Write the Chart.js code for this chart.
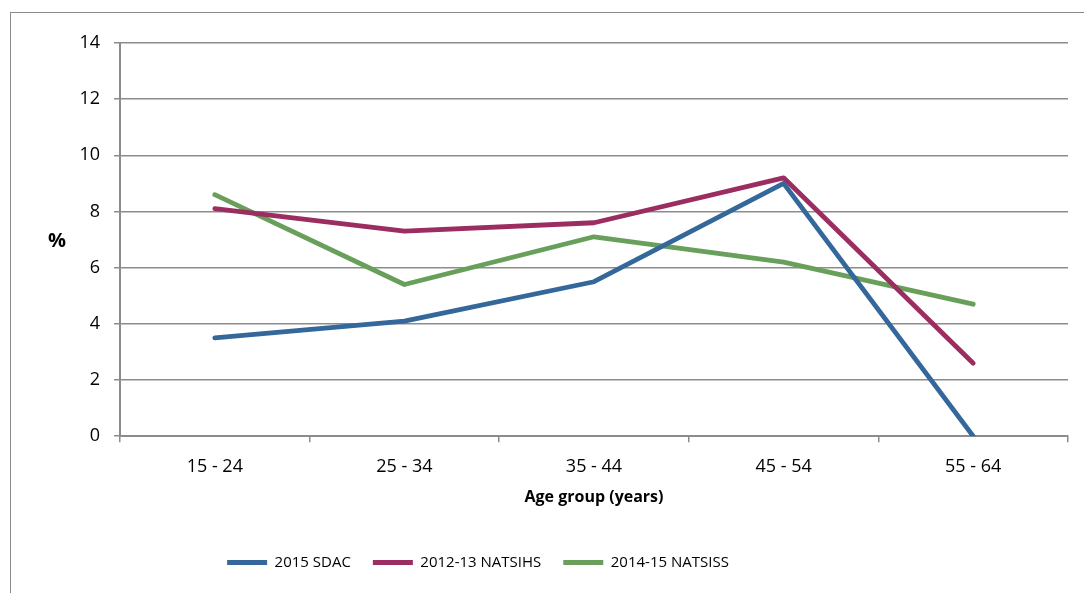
<!DOCTYPE html>
<html>
<head>
<meta charset="utf-8">
<script src="https://cdn.jsdelivr.net/npm/chart.js@4.4.1/dist/chart.umd.min.js"></script>
<style>
  html, body { margin: 0; padding: 0; background: #fff; }
  #wrap { position: relative; width: 1084px; height: 593px; }
  #frame {
    position: absolute; left: 10px; top: 12px; right: -2px; bottom: -2px;
    border-top: 1px solid #8a8a8a; border-left: 1px solid #8a8a8a;
  }
  canvas { position: absolute; left: 0; top: 0; }
</style>
</head>
<body>
<div id="wrap">
  <div id="frame"></div>
  <canvas id="chart" width="1084" height="593"></canvas>
</div>
<script>
const ageGroups = ['15 - 24', '25 - 34', '35 - 44', '45 - 54', '55 - 64'];
const sdac2015 = [3.5, 4.1, 5.5, 9.0, 0];
const natsihs201213 = [8.1, 7.3, 7.6, 9.2, 2.6];
const natsiss201415 = [8.6, 5.4, 7.1, 6.2, 4.7];

const FONT = "'Open Sans', 'Liberation Sans', sans-serif";
const GRID = '#8c8c8c';

function series(label, data, color) {
  return {
    label,
    data,
    borderColor: color,
    backgroundColor: color,
    borderWidth: 4.8,
    borderCapStyle: 'round',
    borderJoinStyle: 'round',
    pointRadius: 0,
    pointHoverRadius: 0,
    tension: 0,
    fill: false,
  };
}

// Horizontal "%" label beside the value axis
const percentLabel = {
  id: 'percentLabel',
  afterDraw(chart) {
    const { ctx, chartArea } = chart;
    ctx.save();
    ctx.font = `bold 20px ${FONT}`;
    ctx.fillStyle = '#000';
    ctx.textAlign = 'center';
    ctx.textBaseline = 'middle';
    ctx.fillText('%', 57, (chartArea.top + chartArea.bottom) / 2 + 2);
    ctx.restore();
  },
};

// The legend sits a little left of the canvas centre
const legendShift = {
  id: 'legendShift',
  afterLayout(chart) {
    if (!chart.legend) return;
    chart.legend.left -= 56;
    chart.legend.right -= 56;
  },
};

new Chart(document.getElementById('chart').getContext('2d'), {
  type: 'line',
  data: {
    labels: ageGroups,
    datasets: [
      series('2015 SDAC', sdac2015, '#34679a'),
      series('2012-13 NATSIHS', natsihs201213, '#9b2d60'),
      series('2014-15 NATSISS', natsiss201415, '#68a05b'),
    ],
  },
  options: {
    responsive: false,
    animation: false,
    layout: { padding: { top: 43, right: 16, bottom: 13, left: 0 } },
    plugins: {
      legend: {
        position: 'bottom',
        labels: {
          usePointStyle: true,
          pointStyle: 'line',
          pointStyleWidth: 40,
          boxHeight: 5,
          padding: 22,
          color: '#000',
          font: { family: FONT, size: 15 },
        },
      },
      tooltip: { enabled: false },
    },
    scales: {
      x: {
        offset: true,
        grid: {
          offset: true,
          drawOnChartArea: false,
          drawTicks: true,
          tickLength: 6,
          color: GRID,
          lineWidth: 1.5,
        },
        border: { color: GRID, width: 2 },
        ticks: { color: '#000', font: { family: FONT, size: 18 }, padding: 14 },
        title: {
          display: true,
          text: 'Age group (years)',
          color: '#000',
          font: { family: FONT, size: 16, weight: 'bold' },
          padding: { top: -4, bottom: 26 },
        },
      },
      y: {
        min: 0,
        max: 14,
        afterFit(scale) { scale.width = 120; },
        grid: { color: GRID, lineWidth: 1.5, tickLength: 6 },
        border: { color: GRID, width: 2 },
        ticks: { stepSize: 2, color: '#000', font: { family: FONT, size: 18 }, padding: 14 },
      },
    },
  },
  plugins: [percentLabel, legendShift],
});
</script>
</body>
</html>
